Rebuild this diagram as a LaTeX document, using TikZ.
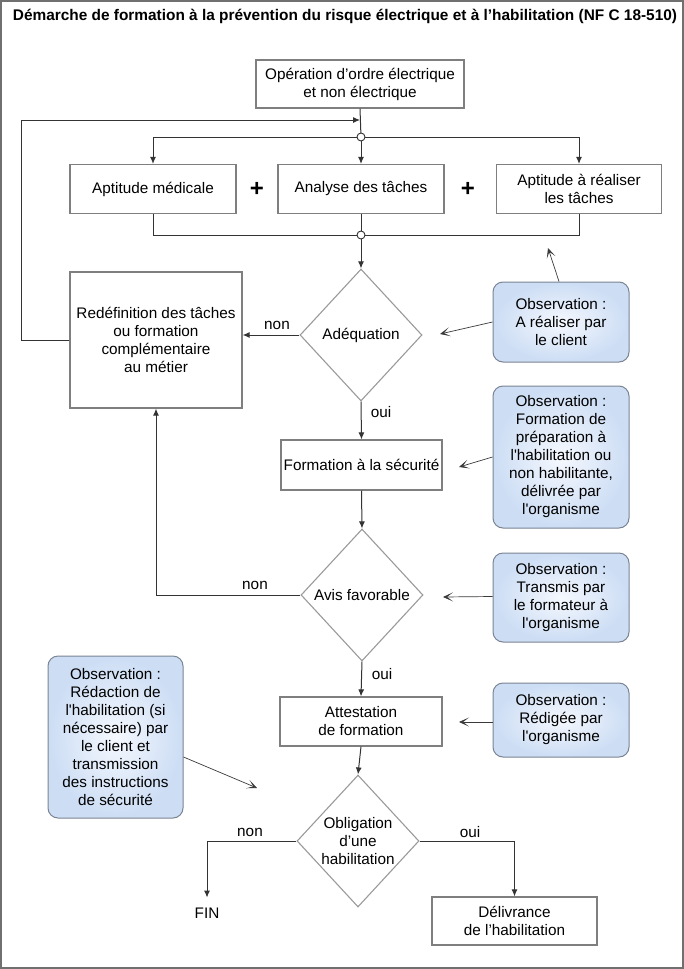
\documentclass[tikz,border=0pt]{standalone}
\usepackage{fontspec}
\setmainfont{Liberation Sans}[Ligatures=TeXOff]
\usetikzlibrary{shapes.geometric,arrows.meta,calc}
\definecolor{boxgray}{HTML}{7F7F7F}
\definecolor{diagray}{HTML}{9A9A9A}
\definecolor{flowc}{HTML}{333333}
\definecolor{notec}{HTML}{3A3A3A}
\definecolor{obsborder}{HTML}{7A8494}
\definecolor{obsin}{HTML}{F5F8FE}
\definecolor{obsout}{HTML}{CCDDF4}
\definecolor{framec}{HTML}{707070}
\newcommand\mfs{\fontsize{15.3}{18}\selectfont}
\begin{document}
\begin{tikzpicture}[x=1pt,y=-1pt,
  box/.style={draw=boxgray, line width=1.2pt, fill=white, align=center, inner sep=0pt, font=\mfs},
  obs/.style={draw=obsborder, line width=1pt, rounded corners=10pt, inner color=obsin, outer color=obsout, align=center, inner sep=0pt, font=\mfs, minimum width=136pt},
  dia/.style={diamond, draw=diagray, line width=1.1pt, fill=white, minimum width=122pt, minimum height=132pt, inner sep=0pt},
  dtext/.style={align=center, font=\mfs, inner sep=0pt},
  lbl/.style={font=\mfs, inner sep=0pt},
  flow/.style={draw=flowc, line width=1pt, -{Latex[length=7pt,width=6pt]}},
  plain/.style={draw=flowc, line width=1pt},
  note/.style={draw=notec, line width=0.7pt, -{Stealth[length=10pt,width=9pt,inset=6pt]}},
  junction/.style={circle, draw=flowc, line width=0.9pt, fill=white, minimum size=8pt, inner sep=0pt}
]
\useasboundingbox (0,0) rectangle (684,969);
\draw[framec, line width=1.5pt] (1,1) rectangle (683,968);

\node[font=\bfseries\fontsize{15.4}{17}\selectfont, inner sep=0pt] (title) at (345,16)
  {Démarche de formation à la prévention du risque électrique et à l’habilitation (NF C 18-510)};

% main nodes
\node[box, minimum width=208pt, minimum height=48pt] (top) at (360,84) {Opération d’ordre électrique\\et non électrique};
\node[box, minimum width=166pt, minimum height=49pt] (a1) at (153,189) {Aptitude médicale};
\node[box, minimum width=166pt, minimum height=49pt] (a2) at (361,189) {Analyse des tâches};
\node[box, minimum width=165pt, minimum height=49pt] (a3) at (579,189) {Aptitude à réaliser\\les tâches};
\node[font=\bfseries\fontsize{24}{24}\selectfont, inner sep=0pt] (plus1) at (257,189) {+};
\node[font=\bfseries\fontsize{24}{24}\selectfont, inner sep=0pt] (plus2) at (468,189) {+};

\node[dia] (d1) at (361,335) {};
\node[dtext] (d1t) at (d1) {Adéquation};
\node[box, minimum width=172pt, minimum height=136pt] (redef) at (156,340) {Redéfinition des tâches\\ou formation\\complémentaire\\au métier};
\node[box, minimum width=161pt, minimum height=50pt] (form) at (361.5,465) {Formation à la sécurité};
\node[dia] (d2) at (362,595) {};
\node[dtext] (d2t) at (d2) {Avis favorable};
\node[box, minimum width=162pt, minimum height=49pt] (att) at (361,721.5) {Attestation\\de formation};
\node[dia] (d3) at (358,841) {};
\node[dtext] (d3t) at (d3) {Obligation\\d’une\\habilitation};
\node[box, minimum width=165pt, minimum height=48pt] (deliv) at (514.5,921) {Délivrance\\de l’habilitation};
\node[lbl, inner ysep=10pt] (fin) at (207,913) {FIN};

% junctions
\coordinate (c1pos) at (361,137);
\coordinate (c2pos) at (361,235);

% connectors top
\draw[plain] (top.south) -- (c1pos);
\draw[flow] (c1pos) -| (a1.north);
\draw[flow] (c1pos) -- (a2.north);
\draw[flow] (c1pos) -| (a3.north);
\draw[plain] (a1.south) |- (c2pos);
\draw[plain] (a3.south) |- (c2pos);
\draw[plain] (a2.south) -- (c2pos);
\node[junction] (c1) at (c1pos) {};
\node[junction] (c2) at (c2pos) {};
\draw[flow] (c2) -- (d1.north);

% loop
\coordinate (loopend) at (360,120);
\draw[flow] (redef.west) -- ++(-48,0) |- (loopend);

% decisions
\draw[flow] (d1.west) -- (d1.west -| redef.east);
\node[lbl] (non1) at (277,325) {non};
\draw[flow] (d1.south) -- (form.north);
\node[lbl] (oui1) at (381,412) {oui};
\draw[flow] (form.south) -- (d2.north);
\draw[flow] (d2.west) -| (redef.south);
\node[lbl] (non2) at (255,585) {non};
\draw[flow] (d2.south) -- (att.north);
\node[lbl] (oui2) at (382,674) {oui};
\draw[flow] (att.south) -- (d3.north);
\draw[flow] (d3.west) -| (fin.north);
\node[lbl] (non3) at (250,832) {non};
\draw[flow] (d3.east) -| (deliv.north);
\node[lbl] (oui3) at (470,832) {oui};

% observations
\node[obs, minimum height=80pt] (o1) at (561,322) {Observation :\\A réaliser par\\le client};
\node[obs, minimum height=142pt] (o2) at (561,457) {Observation :\\Formation de\\préparation à\\l'habilitation ou\\non habilitante,\\délivrée par\\l'organisme};
\node[obs, minimum height=89pt] (o3) at (561,597.5) {Observation :\\Transmis par\\le formateur à\\l'organisme};
\node[obs, minimum height=74pt] (o4) at (561,720) {Observation :\\Rédigée par\\l'organisme};
\node[obs, minimum width=135pt, minimum height=162pt] (o5) at (115.5,737) {Observation :\\Rédaction de\\l'habilitation (si\\nécessaire) par\\le client et\\transmission\\des instructions\\de sécurité};

\coordinate (t1) at (548,248);
\coordinate (t2) at (440,334);
\coordinate (t3) at (459,467);
\coordinate (t4) at (443,597);
\coordinate (t5) at (459,722);
\coordinate (t6) at (257,788);
\draw[note] ($(o1.north)+(-2,0)$) -- (t1);
\draw[note] (o1.west) -- (t2);
\draw[note] (o2.west) -- (t3);
\draw[note] ($(o3.west)+(0,-1)$) -- (t4);
\draw[note] ($(o4.west)+(0,2)$) -- (t5);
\draw[note] ($(o5.east)+(0,20)$) -- (t6);
\end{tikzpicture}
\end{document}
